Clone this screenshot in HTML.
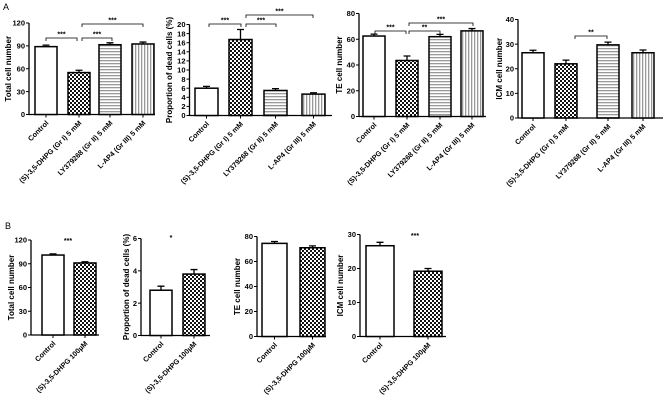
<!DOCTYPE html>
<html><head><meta charset="utf-8">
<style>
html,body{margin:0;padding:0;background:#fff;}
svg{display:block;font-family:"Liberation Sans",Arial,sans-serif;}
</style></head>
<body>
<svg id="fig" width="666" height="407" viewBox="0 0 666 407">
<defs>
<pattern id="checker" width="4" height="4" patternUnits="userSpaceOnUse">
<rect width="4" height="4" fill="#fff"/><rect width="2" height="2" fill="#111"/><rect x="2" y="2" width="2" height="2" fill="#111"/>
</pattern>
<pattern id="hstripe" width="4" height="3" patternUnits="userSpaceOnUse">
<rect width="4" height="3" fill="#fff"/><rect width="4" height="1.3" fill="#999"/>
</pattern>
<pattern id="vstripe" width="3" height="4" patternUnits="userSpaceOnUse">
<rect width="3" height="4" fill="#fff"/><rect width="1.3" height="4" fill="#999"/>
</pattern>
</defs>
<text x="3" y="10" font-size="9">A</text>
<text x="5" y="229" font-size="9">B</text>
</svg>
<script>
// Data
const catsA = ["Control","(S)-3,5-DHPG (Gr I) 5 mM","LY379268 (Gr II) 5 mM","L-AP4 (Gr III) 5 mM"];
const catsB = ["Control","(S)-3,5-DHPG 100\u00b5M"];
const fillsA = ["#fff","url(#checker)","url(#hstripe)","url(#vstripe)"];
const fillsB = ["#fff","url(#checker)"];
const a1Vals = [89, 55, 91.5, 92.5];
const a1Errs = [2, 3, 2.5, 2.5];
const a1Ticks = [0,30,60,90,120];
const a2Vals = [6, 16.7, 5.5, 4.7];
const a2Errs = [0.4, 2.2, 0.4, 0.3];
const a2Ticks = [0,2,4,6,8,10,12,14,16,18,20];
const a3Vals = [62.5, 43.5, 62, 66.5];
const a3Errs = [1.5, 3.5, 1.8, 1.8];
const a3Ticks = [0,20,40,60,80];
const a4Vals = [26.5, 22, 29.7, 26.5];
const a4Errs = [1, 1.5, 1.1, 1.1];
const a4Ticks = [0,10,20,30,40];
const b1Vals = [101, 91];
const b1Errs = [1.5, 1.5];
const b1Ticks = [0,30,60,90,120];
const b2Vals = [2.8, 3.8];
const b2Errs = [0.25, 0.28];
const b2Ticks = [0,2,4,6];
const b3Vals = [74.5, 71];
const b3Errs = [1.5, 1.5];
const b3Ticks = [0,20,40,60,80];
const b4Vals = [26.7, 19.2];
const b4Errs = [1, 0.8];
const b4Ticks = [0,10,20,30];

const NS="http://www.w3.org/2000/svg";
const svg=document.getElementById('fig');
function mk(tag,attrs,parent){const e=document.createElementNS(NS,tag);for(const k in attrs)e.setAttribute(k,attrs[k]);(parent||svg).appendChild(e);return e;}

function panel(id,cfg){
  const g=mk('g',{});
  
  
  const maxT=cfg.ticks[cfg.ticks.length-1];
  const y=v=>cfg.y0-(v/maxT)*(cfg.y0-cfg.yTop);
  const x=i=>cfg.bars[i];
  // y axis
  const ax=mk('line',{x1:cfg.ax,y1:y(maxT),x2:cfg.ax,y2:cfg.y0,stroke:'#000','stroke-width':1.3},g);
  
  
  cfg.ticks.forEach(t=>{
    mk('line',{x1:cfg.ax-3,y1:y(t),x2:cfg.ax,y2:y(t),stroke:'#000','stroke-width':1},g);
    const tx=mk('text',{x:cfg.ax-4,y:y(t)+2.7,'font-size':7.5,'font-weight':'bold','text-anchor':'end'},g);
    tx.textContent=t;
    
    
  });
  const xa=mk('line',{x1:cfg.ax,y1:cfg.y0,x2:cfg.xEnd,y2:cfg.y0,stroke:'#000','stroke-width':1.3},g);
  
  
  const tt=mk('text',{transform:`translate(${cfg.titleX},${(cfg.y0+y(maxT))/2}) rotate(-90)`,'font-size':8,'font-weight':'bold','text-anchor':'middle'},g);
  tt.textContent=cfg.title;
  
  
  cfg.vals.forEach((v,i)=>{
    const cx=x(i)+cfg.bw/2;
    const r=mk('rect',{x:x(i),y:y(v),width:cfg.bw,height:cfg.y0-y(v),fill:cfg.fills[i],stroke:'#000','stroke-width':1.5},g);
    
    
    const e=cfg.errs[i];
    const el=mk('path',{d:`M${cx},${y(v)}V${y(v+e)}M${cx-3.5},${y(v+e)}H${cx+3.5}`,stroke:'#000','stroke-width':1.3,fill:'none'},g);
    
    
    mk('line',{x1:cx,y1:cfg.y0,x2:cx,y2:cfg.y0+3,stroke:'#000','stroke-width':1},g);
    const lb=mk('text',{transform:`translate(${cx+3},${cfg.y0+9}) rotate(-45)`,'font-size':7.2,'font-weight':'bold','text-anchor':'end'},g);
    lb.textContent=cfg.cats[i];
    
    
  });
  (cfg.brackets||[]).forEach(b=>{
    const p=mk('path',{d:`M${b[0]},${b[2]+3}V${b[2]}H${b[1]}V${b[2]+3}`,stroke:'#000','stroke-width':0.8,fill:'none'},g);
    
    
    const s=mk('text',{x:(b[0]+b[1])/2,y:b[2]-1.5,'font-size':7,'font-weight':'bold','text-anchor':'middle'},g);
    s.textContent=b[3];
    
    
  });
  (cfg.stars||[]).forEach(s=>{
    const t=mk('text',{x:s[0],y:s[1],'font-size':7,'font-weight':'bold','text-anchor':'middle'},g);
    t.textContent=s[2];
    
    
  });
}

panel('total-cell-a',{ax:29,y0:114.5,yTop:23,xEnd:155,bars:[35,68,99,132],bw:22,ticks:a1Ticks,vals:a1Vals,errs:a1Errs,cats:catsA,fills:fillsA,title:'Total cell number',titleX:11,
  brackets:[[46,77,38,'***'],[82,112,38,'***'],[82,143,24,'***']]});
panel('dead-cells-a',{ax:189.5,y0:115.5,yTop:24.5,xEnd:332,bars:[195,229,264,302],bw:23,ticks:a2Ticks,vals:a2Vals,errs:a2Errs,cats:catsA,fills:fillsA,title:'Proportion of dead cells (%)',titleX:172,
  brackets:[[209,241,24,'***'],[246,276,24,'***'],[246,313,15,'***']]});
panel('te-cell-a',{ax:359,y0:116.5,yTop:13.5,xEnd:486,bars:[363,396,429,461],bw:22,ticks:a3Ticks,vals:a3Vals,errs:a3Errs,cats:catsA,fills:fillsA,title:'TE cell number',titleX:342,
  brackets:[[375,406,31,'***'],[409,440,31,'**'],[409,473,23,'***']]});
panel('icm-cell-a',{ax:518,y0:118,yTop:19.5,xEnd:663,bars:[522,555,597,632],bw:22,ticks:a4Ticks,vals:a4Vals,errs:a4Errs,cats:catsA,fills:fillsA,title:'ICM cell number',titleX:502,
  brackets:[[575,607,36,'**']]});
panel('total-cell-b',{ax:31,y0:335,yTop:240,xEnd:99,bars:[42,74],bw:22,ticks:b1Ticks,vals:b1Vals,errs:b1Errs,cats:catsB,fills:fillsB,title:'Total cell number',titleX:14,
  stars:[[68,243,'***']]});
panel('dead-cells-b',{ax:141,y0:335.5,yTop:238.5,xEnd:210,bars:[150,183],bw:22,ticks:b2Ticks,vals:b2Vals,errs:b2Errs,cats:catsB,fills:fillsB,title:'Proportion of dead cells (%)',titleX:129,
  stars:[[171,240,'*']]});
panel('te-cell-b',{ax:257,y0:336.5,yTop:236.5,xEnd:326,bars:[262,300],bw:25,ticks:b3Ticks,vals:b3Vals,errs:b3Errs,cats:catsB,fills:fillsB,title:'TE cell number',titleX:240,stars:[]});
panel('icm-cell-b',{ax:360,y0:336.5,yTop:234.5,xEnd:446,bars:[366,414],bw:28,ticks:b4Ticks,vals:b4Vals,errs:b4Errs,cats:catsB,fills:fillsB,title:'ICM cell number',titleX:343,
  stars:[[415,238,'***']]});
</script>
</body></html>
